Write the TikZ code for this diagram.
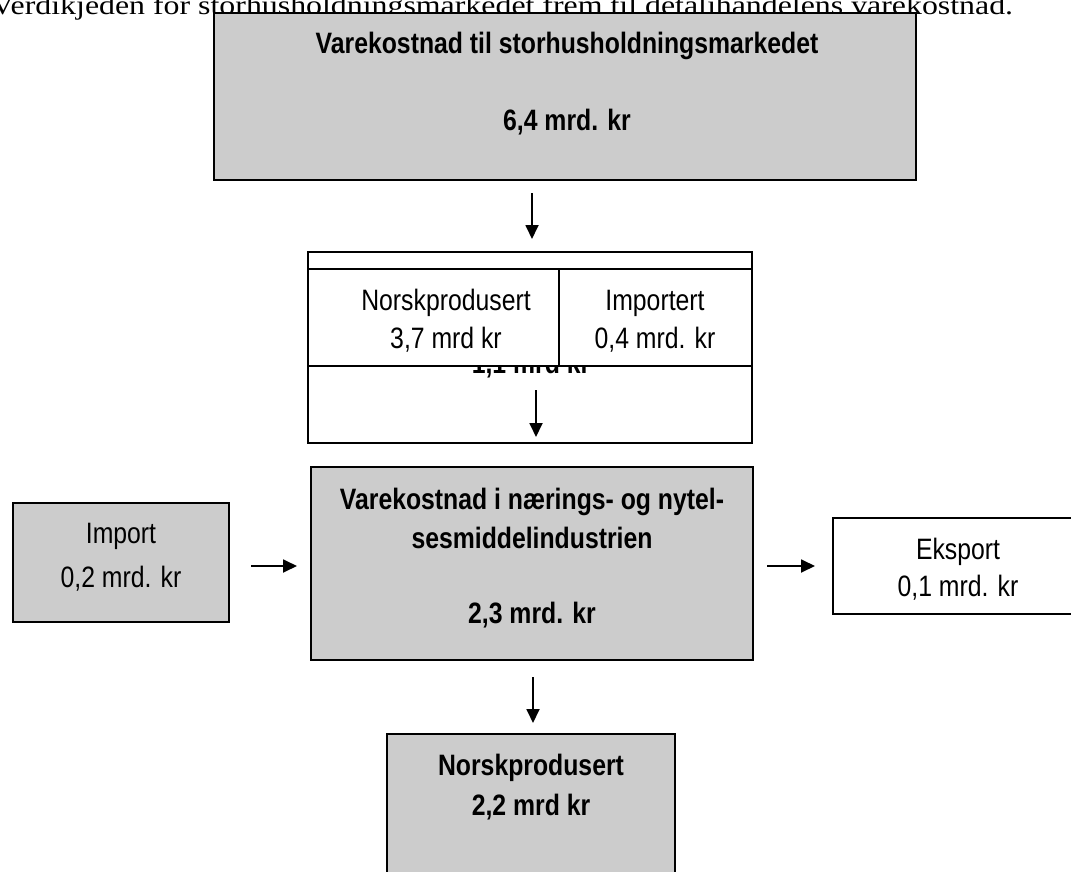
\documentclass[tikz,border=0pt]{standalone}
\usepackage{fontspec}
\usepackage{tikz}
\usetikzlibrary{arrows.meta,positioning}
\newfontfamily\boxfont[FakeStretch=0.84]{Liberation Sans}
\newfontfamily\capfont[FakeStretch=1.18]{Liberation Serif}
\definecolor{boxgray}{HTML}{CCCCCC}
\tikzset{
  box/.style={
    draw,
    line width=1.8pt,
    rectangle,
    inner sep=0pt,
    outer sep=0pt,
    anchor=north west
  },
  graybox/.style={
    box,
    fill=boxgray
  },
  whitebox/.style={
    box,
    fill=white
  }
}
\begin{document}
\begin{tikzpicture}[%
            x=1pt,
            y=-1pt,
            flow/.style={-{Triangle[length=14pt,width=13pt]},line width=1.8pt},
            txt/.style={font=\boxfont\fontsize{29.5}{35}\selectfont,anchor=base,inner sep=0pt},
            btxt/.style={font=\boxfont\bfseries\fontsize{29.5}{35}\selectfont,anchor=base,inner sep=0pt}]
    \useasboundingbox (0,0) rectangle (1071,872);
    \clip (0,0) rectangle (1071,872);
    \node[anchor=base west,inner sep=0pt,font=\capfont\fontsize{27}{32}\selectfont] (caption) at (-9,15)
      {Verdikjeden for storhusholdningsmarkedet frem til detaljhandelens varekostnad.};
    % top box
    \node[graybox,minimum width=702pt,minimum height=167pt] (total) at (214,13) {};
    \node[btxt] (total_t) at (567,54) {Varekostnad til storhusholdningsmarkedet};
    \node[btxt] (total_v) at (567,131) {6,4 mrd. kr};
    % split box
    \node[whitebox,minimum width=444pt,minimum height=191pt] (split) at (308,252) {};
    \node[btxt] (split_v) at (531,373) {1,1 mrd kr};
    \node[whitebox,minimum width=251pt,minimum height=97pt] (norsk) at (308,269) {};
    \node[whitebox,minimum width=193pt,minimum height=97pt] (importert) at (559,269) {};
    \node[txt] (norsk_t) at (446,310) {Norskprodusert};
    \node[txt] (norsk_v) at (446,348) {3,7 mrd kr};
    \node[txt] (importert_t) at (655,310) {Importert};
    \node[txt] (importert_v) at (655,348) {0,4 mrd. kr};
    % industry
    \node[graybox,minimum width=442pt,minimum height=193pt] (industri) at (311,467) {};
    \node[btxt] (industri_t1) at (532,509) {Varekostnad i nærings- og nytel-};
    \node[btxt] (industri_t2) at (532,548) {sesmiddelindustrien};
    \node[btxt] (industri_v) at (532,623) {2,3 mrd. kr};
    \node[graybox,minimum width=216pt,minimum height=119pt] (import) at (13,503) {};
    \node[txt] (import_t) at (121,543) {Import};
    \node[txt] (import_v) at (121,587) {0,2 mrd. kr};
    \node[whitebox,minimum width=300pt,minimum height=96pt] (eksport) at (833,518) {};
    \node[txt] (eksport_t) at (958,559) {Eksport};
    \node[txt] (eksport_v) at (958,596) {0,1 mrd. kr};
    % bottom
    \node[graybox,minimum width=288pt,minimum height=200pt] (produsert) at (387,734) {};
    \node[btxt] (produsert_t) at (531,775) {Norskprodusert};
    \node[btxt] (produsert_v) at (531,815) {2,2 mrd kr};
    % arrows
    \coordinate (a1s) at (532,193);
    \coordinate (a1e) at (532,239);
    \coordinate (a2s) at (536,390);
    \coordinate (a2e) at (536,437);
    \coordinate (a3s) at (251,566);
    \coordinate (a3e) at (297,566);
    \coordinate (a4s) at (767,566);
    \coordinate (a4e) at (815,566);
    \coordinate (a5s) at (533,677);
    \coordinate (a5e) at (533,723);
    \draw[flow] (a1s) -- (a1e);
    \draw[flow] (a2s) -- (a2e);
    \draw[flow] (a3s) -- (a3e);
    \draw[flow] (a4s) -- (a4e);
    \draw[flow] (a5s) -- (a5e);
\end{tikzpicture}
\end{document}
